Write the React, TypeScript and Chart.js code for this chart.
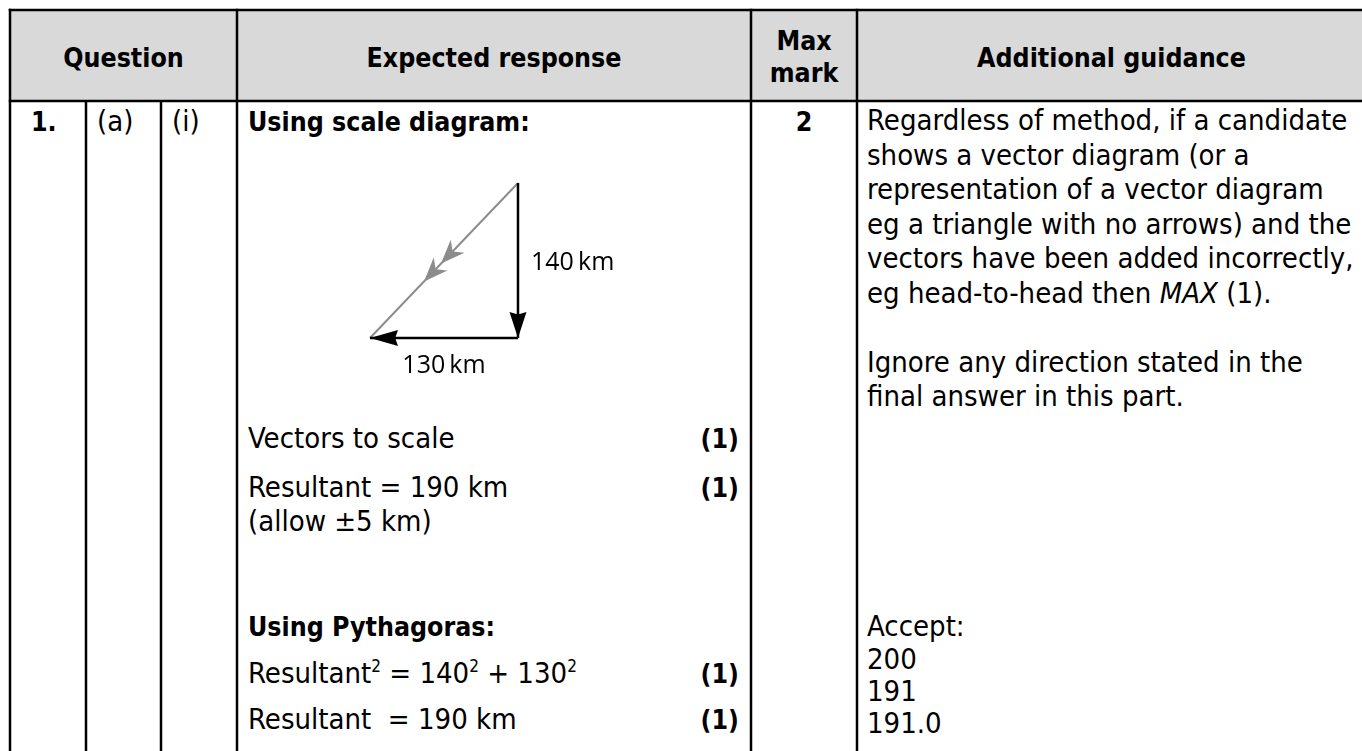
import React, { useEffect, useRef } from "react";
import { Chart, registerables } from "chart.js";

Chart.register(...registerables);

// ---------------- data ----------------
const headerLabels = ["Question", "Expected response", "Max", "mark", "Additional guidance"];
const questionNumber = "1.";
const questionPart = "(a)";
const questionSubpart = "(i)";
const maxMark = "2";
const method1Title = "Using scale diagram:";
const method1Steps = ["Vectors to scale", "Resultant = 190 km"];
const method1Note = "(allow ±5 km)";
const method2Title = "Using Pythagoras:";
const method2Result = "Resultant  = 190 km";
const stepMarks = ["(1)", "(1)", "(1)", "(1)"];
const guidanceLines = [
  "Regardless of method, if a candidate",
  "shows a vector diagram (or a",
  "representation of a vector diagram",
  "eg a triangle with no arrows) and the",
  "vectors have been added incorrectly,",
];
const guidanceLastPre = "eg head-to-head then ";
const guidanceLastItalic = "MAX";
const guidanceLastPost = " (1).";
const guidanceNote = ["Ignore any direction stated in the", "final answer in this part."];
const acceptTitle = "Accept:";
const acceptValues = ["200", "191", "191.0"];
// vector diagram values (km)
const southKm = 140;
const westKm = 130;
const unit = "km";

// ---------------- layout ----------------
const FONT = "'DejaVu Sans Condensed', 'DejaVu Sans', sans-serif";
const REG = 29;
const BOLD = 26.5;
const colX = [10, 86, 161, 237, 751, 857];
const headTop = 10;
const headBottom = 101;
const guideY = [130, 164.5, 199, 233.5, 268, 302.5];
const noteY = [371.5, 406];
const acceptY = [636, 669, 701, 733];
const stepY = [448, 497];
const noteLineY = 531;
const pythY = [636, 683, 729];

const arrowPlugin = {
  id: "vectorArrows",
  afterDatasetsDraw(chart: any) {
    const ctx = chart.ctx as CanvasRenderingContext2D;
    chart.data.datasets.forEach((ds: any, i: number) => {
      const pts = chart.getDatasetMeta(i).data;
      const a = pts[0];
      const b = pts[pts.length - 1];
      const ang = Math.atan2(b.y - a.y, b.x - a.x);
      (ds.arrowAt || []).forEach((t: number) => {
        const tx = a.x + (b.x - a.x) * t;
        const ty = a.y + (b.y - a.y) * t;
        ctx.save();
        ctx.translate(tx, ty);
        ctx.rotate(ang);
        ctx.beginPath();
        ctx.moveTo(0, 0);
        ctx.lineTo(-ds.arrowLen, ds.arrowHalf);
        ctx.lineTo(-ds.arrowLen * ds.arrowNotch, 0);
        ctx.lineTo(-ds.arrowLen, -ds.arrowHalf);
        ctx.closePath();
        ctx.fillStyle = ds.borderColor;
        ctx.fill();
        ctx.restore();
      });
      if (ds.labelPos) {
        const mx = (a.x + b.x) / 2;
        const my = (a.y + b.y) / 2;
        ctx.save();
        ctx.font = "25px 'Open Sans', 'Noto Sans', sans-serif";
        ctx.fillStyle = "#000";
        if (ds.labelPos === "right") {
          ctx.textAlign = "left";
          ctx.textBaseline = "middle";
          ctx.fillText(ds.label, mx + 13, my + 2);
        } else {
          ctx.textAlign = "center";
          ctx.textBaseline = "top";
          ctx.fillText(ds.label, mx, my + 15);
        }
        ctx.restore();
      }
    });
  },
};

function VectorDiagram() {
  const ref = useRef<HTMLCanvasElement>(null);
  useEffect(() => {
    const start = { x: westKm, y: southKm };
    const corner = { x: westKm, y: 0 };
    const end = { x: 0, y: 0 };
    const chart = new Chart(ref.current as HTMLCanvasElement, {
      type: "scatter",
      data: {
        datasets: [
          {
            label: `${southKm}\u2009${unit}`,
            data: [start, corner],
            borderColor: "#000",
            backgroundColor: "#000",
            borderWidth: 2.5,
            showLine: true,
            pointRadius: 0,
            arrowAt: [1],
            arrowLen: 26,
            arrowHalf: 8.5,
            arrowNotch: 0.9,
            labelPos: "right",
          } as any,
          {
            label: `${westKm}\u2009${unit}`,
            data: [corner, end],
            borderColor: "#000",
            backgroundColor: "#000",
            borderWidth: 2.5,
            showLine: true,
            pointRadius: 0,
            arrowAt: [1],
            arrowLen: 28,
            arrowHalf: 8,
            arrowNotch: 0.9,
            labelPos: "below",
          } as any,
          {
            label: "resultant",
            data: [start, end],
            borderColor: "#8c8c8c",
            backgroundColor: "#8c8c8c",
            borderWidth: 2,
            showLine: true,
            pointRadius: 0,
            arrowAt: [0.52, 0.635],
            arrowLen: 24,
            arrowHalf: 9.5,
            arrowNotch: 0.7,
          } as any,
        ],
      },
      options: {
        responsive: false,
        animation: false,
        events: [],
        layout: { padding: 0 },
        plugins: { legend: { display: false }, tooltip: { enabled: false } },
        scales: {
          x: { type: "linear", min: -35.14, max: 228.4, display: false },
          y: { type: "linear", min: -46.97, max: 151.74, display: false },
        },
      },
      plugins: [arrowPlugin],
    });
    return () => chart.destroy();
  }, []);
  return (
    <canvas
      ref={ref}
      width={300}
      height={220}
      style={{ position: "absolute", left: 330, top: 170, width: 300, height: 220 }}
    />
  );
}

function T(props: { x: number; y: number; bold?: boolean; anchor?: string; children: any }) {
  return (
    <text
      x={props.x}
      y={props.y}
      fontFamily={FONT}
      fontSize={props.bold ? BOLD : REG}
      fontWeight={props.bold ? 700 : 400}
      textAnchor={(props.anchor as any) || "start"}
      fill="#000"
      style={{ fontStretch: "condensed", whiteSpace: "pre" }}
    >
      {props.children}
    </text>
  );
}

export default function App() {
  const W = 1362;
  const H = 751;
  const lw = 2.5;
  const textX = colX[3] + 11;
  const guideX = colX[5] + 10;
  const markX = 739;
  const maxMid = (colX[4] + colX[5]) / 2;
  const sup = { fontSize: 17 };
  return (
    <div style={{ position: "absolute", left: 0, top: 0, width: W, height: H, overflow: "hidden", background: "#fff" }}>
      <svg width={W} height={H} style={{ position: "absolute", left: 0, top: 0 }}>
        <rect x={colX[0]} y={headTop} width={W} height={headBottom - headTop} fill="#d9d9d9" />
        {/* horizontal borders */}
        <rect x={colX[0] - lw / 2} y={headTop - lw / 2} width={W} height={lw} fill="#000" />
        <rect x={colX[0] - lw / 2} y={headBottom - lw / 2} width={W} height={lw} fill="#000" />
        {/* vertical borders */}
        {[colX[0], colX[3], colX[4], colX[5]].map((x, i) => (
          <rect key={"v" + i} x={x - lw / 2} y={headTop - lw / 2} width={lw} height={H} fill="#000" />
        ))}
        {[colX[1], colX[2]].map((x, i) => (
          <rect key={"q" + i} x={x - lw / 2} y={headBottom} width={lw} height={H} fill="#000" />
        ))}

        {/* header */}
        <T x={(colX[0] + colX[3]) / 2} y={67} bold anchor="middle">{headerLabels[0]}</T>
        <T x={(colX[3] + colX[4]) / 2} y={67} bold anchor="middle">{headerLabels[1]}</T>
        <T x={maxMid} y={50} bold anchor="middle">{headerLabels[2]}</T>
        <T x={maxMid} y={82} bold anchor="middle">{headerLabels[3]}</T>
        <T x={(colX[5] + 1366) / 2} y={67} bold anchor="middle">{headerLabels[4]}</T>

        {/* question numbers */}
        <T x={31} y={131} bold>{questionNumber}</T>
        <T x={colX[1] + 11} y={131}>{questionPart}</T>
        <T x={colX[2] + 11} y={131}>{questionSubpart}</T>

        {/* expected response */}
        <T x={textX} y={131} bold>{method1Title}</T>
        <T x={textX} y={stepY[0]}>{method1Steps[0]}</T>
        <T x={textX} y={stepY[1]}>{method1Steps[1]}</T>
        <T x={textX} y={noteLineY}>{method1Note}</T>
        <T x={textX} y={pythY[0]} bold>{method2Title}</T>
        <T x={textX} y={pythY[1]}>
          <tspan>Resultant</tspan>
          <tspan dy={-11} {...sup}>2</tspan>
          <tspan dy={11}>{` = ${southKm}`}</tspan>
          <tspan dy={-11} {...sup}>2</tspan>
          <tspan dy={11}>{` + ${westKm}`}</tspan>
          <tspan dy={-11} {...sup}>2</tspan>
        </T>
        <T x={textX} y={pythY[2]}>{method2Result}</T>
        <T x={markX} y={stepY[0]} bold anchor="end">{stepMarks[0]}</T>
        <T x={markX} y={stepY[1]} bold anchor="end">{stepMarks[1]}</T>
        <T x={markX} y={pythY[1]} bold anchor="end">{stepMarks[2]}</T>
        <T x={markX} y={pythY[2]} bold anchor="end">{stepMarks[3]}</T>

        {/* max mark */}
        <T x={maxMid} y={131} bold anchor="middle">{maxMark}</T>

        {/* guidance */}
        {guidanceLines.map((s, i) => (
          <T key={"g" + i} x={guideX} y={guideY[i]}>{s}</T>
        ))}
        <T x={guideX} y={guideY[5]}>
          <tspan>{guidanceLastPre}</tspan>
          <tspan fontStyle="italic">{guidanceLastItalic}</tspan>
          <tspan>{guidanceLastPost}</tspan>
        </T>
        {guidanceNote.map((s, i) => (
          <T key={"n" + i} x={guideX} y={noteY[i]}>{s}</T>
        ))}
        <T x={guideX} y={acceptY[0]}>{acceptTitle}</T>
        {acceptValues.map((s, i) => (
          <T key={"a" + i} x={guideX} y={acceptY[i + 1]}>{s}</T>
        ))}
      </svg>
      <VectorDiagram />
    </div>
  );
}
